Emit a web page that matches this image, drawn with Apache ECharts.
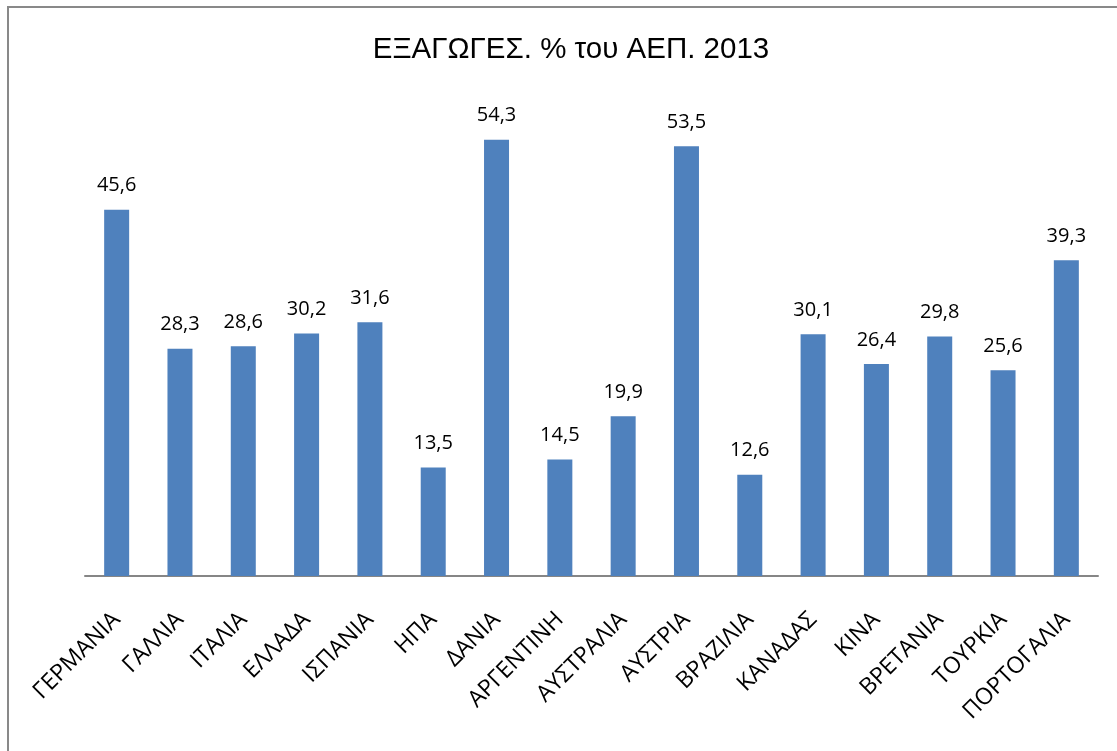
<!DOCTYPE html>
<html><head><meta charset="utf-8">
<script src="https://cdn.jsdelivr.net/npm/echarts@6/dist/echarts.min.js"></script>
<style>
html,body{margin:0;padding:0;background:#fff;}
#frame{position:absolute;left:7px;top:6px;width:1130px;height:770px;border:2px solid #898989;box-sizing:border-box;}
#c{position:absolute;left:0;top:0;width:1117px;height:751px;}
</style></head>
<body>
<div id="frame"></div>
<div id="c"></div>
<script>
const categories = ['ΓΕΡΜΑΝΙΑ','ΓΑΛΛΙΑ','ΙΤΑΛΙΑ','ΕΛΛΑΔΑ','ΙΣΠΑΝΙΑ','ΗΠΑ','ΔΑΝΙΑ','ΑΡΓΕΝΤΙΝΗ','ΑΥΣΤΡΑΛΙΑ','ΑΥΣΤΡΙΑ','ΒΡΑΖΙΛΙΑ','ΚΑΝΑΔΑΣ','ΚΙΝΑ','ΒΡΕΤΑΝΙΑ','ΤΟΥΡΚΙΑ','ΠΟΡΤΟΓΑΛΙΑ'];
const values = [45.6,28.3,28.6,30.2,31.6,13.5,54.3,14.5,19.9,53.5,12.6,30.1,26.4,29.8,25.6,39.3];
const titleText = 'ΕΞΑΓΩΓΕΣ. % του ΑΕΠ. 2013';

const chart = echarts.init(document.getElementById('c'), null, {renderer:'canvas'});
chart.setOption({
  animation:false,
  backgroundColor:'transparent',
  title:{text:titleText,left:566,textAlign:'center',top:30,
    textStyle:{fontFamily:'Liberation Sans, Arial, sans-serif',fontWeight:'normal',fontSize:29.5,color:'#000'}},
  grid:{left:85,right:19,top:94,bottom:175,containLabel:false},
  xAxis:{type:'category',data:categories,
    axisLine:{lineStyle:{color:'#868686',width:2}},
    axisTick:{show:false},
    axisLabel:{rotate:45,interval:0,margin:40,fontFamily:'Open Sans, Noto Sans, sans-serif',fontSize:23,color:'#000'}},
  yAxis:{type:'value',min:0,max:60,interval:10,show:false,splitLine:{show:false}},
  series:[{type:'bar',data:values,barWidth:25,
    itemStyle:{color:'#4F81BD'},
    label:{show:true,position:'top',distance:14,fontFamily:'Open Sans, Noto Sans, sans-serif',fontSize:20,color:'#000',
      formatter:p=>String(p.value).replace('.',',')}}]
});
</script>
</body></html>
